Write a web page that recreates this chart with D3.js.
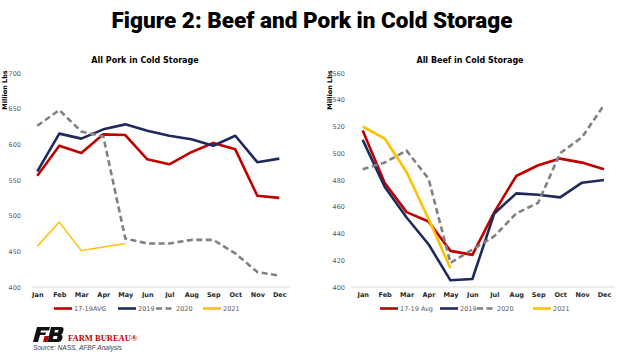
<!DOCTYPE html>
<html>
<head>
<meta charset="utf-8">
<script src="https://cdn.jsdelivr.net/npm/d3@7"></script>
<style>
  body { margin: 0; background: #fff; }
  svg { display: block; }
  text { font-family: "DejaVu Sans", sans-serif; }
</style>
</head>
<body>
<div id="chart"></div>
<script>
// months on the x axis
const months = ['Jan','Feb','Mar','Apr','May','Jun','Jul','Aug','Sep','Oct','Nov','Dec']

// pork in cold storage, million lbs
const porkAvg  = [556, 598, 588, 614, 613, 579, 572, 589, 602, 593, 528, 525]
const pork2019 = [562, 615, 608, 621, 628, 619, 612, 607, 598, 612, 575, 580]
const pork2020 = [626, 648, 618, 611, 468, 461, 461, 466, 466, 447, 421, 416]
const pork2021 = [457, 491, 451, 456, 461]
const porkTicks = [400, 450, 500, 550, 600, 650, 700]

// beef in cold storage, million lbs
const beefAvg  = [517, 478, 456, 449, 427, 424, 456, 483, 491, 496, 493, 488]
const beef2019 = [510, 475, 452, 432, 405, 406, 455, 470, 469, 467, 478, 480]
const beef2020 = [488, 493, 502, 481, 418, 428, 438, 455, 463, 500, 512, 536]
const beef2021 = [520, 511, 486, 451, 414]
const beefTicks = [400, 420, 440, 460, 480, 500, 520, 540, 560]

const W = 624, H = 354

const svg = d3.select('#chart').append('svg')
  .attr('width', W)
  .attr('height', H)

svg.append('text')
  .attr('x', 312)
  .attr('y', 28)
  .attr('text-anchor', 'middle')
  .style('font-family', 'Roboto, sans-serif')
  .style('font-weight', 900)
  .style('font-size', '22.5px')
  .attr('fill', '#000')
  .text('Figure 2: Beef and Pork in Cold Storage')

function drawPanel(opt) {
  let g = svg.append('g')

  let x = d3.scalePoint().domain(months).range(opt.xRange)
  let y = d3.scaleLinear().domain(opt.yDomain).range([287, 73])

  g.append('text')
    .attr('x', opt.titleX)
    .attr('y', 63)
    .attr('text-anchor', 'middle')
    .style('font-weight', 'bold')
    .style('font-size', '8px')
    .attr('fill', '#000')
    .text(opt.title)

  g.append('text')
    .attr('transform', `translate(${opt.labelX},90) rotate(-90)`)
    .attr('text-anchor', 'middle')
    .style('font-weight', 'bold')
    .style('font-size', '6.5px')
    .attr('fill', '#000')
    .text('Million Lbs')

  // y tick labels, no axis line
  let yAxis = d3.axisLeft(y).tickValues(opt.ticks).tickSize(0).tickPadding(0)
  let ya = g.append('g').attr('transform', `translate(${opt.tickX},0)`).call(yAxis)
  ya.select('.domain').remove()
  ya.selectAll('text')
    .style('font-size', '6.5px')
    .style('font-family', '"DejaVu Sans", sans-serif')
    .attr('fill', '#595959')

  g.append('line')
    .attr('x1', opt.axisX[0]).attr('x2', opt.axisX[1])
    .attr('y1', 287).attr('y2', 287)
    .attr('stroke', '#d9d9d9').attr('stroke-width', 1)

  let xAxis = d3.axisBottom(x).tickSize(0).tickPadding(0)
  let xa = g.append('g').attr('transform', 'translate(0,292.5)').call(xAxis)
  xa.select('.domain').remove()
  xa.selectAll('text')
    .style('font-size', '6.5px')
    .style('font-weight', 'bold')
    .style('font-family', '"DejaVu Sans", sans-serif')
    .attr('fill', '#262626')

  let line = d3.line()
    .x((d, i) => x(months[i]))
    .y(d => y(d))

  opt.series.forEach(s => {
    g.append('path')
      .datum(s.values)
      .attr('d', line)
      .attr('fill', 'none')
      .attr('stroke', s.color)
      .attr('stroke-width', s.width)
      .attr('stroke-dasharray', s.dash || null)
      .attr('stroke-linejoin', 'round')
  })

  // legend
  opt.series.forEach((s, i) => {
    let lx = opt.legendX[i]
    g.append('line')
      .attr('x1', lx).attr('x2', lx + 18)
      .attr('y1', 308.5).attr('y2', 308.5)
      .attr('stroke', s.color)
      .attr('stroke-width', 2.6)
      .attr('stroke-dasharray', s.dash || null)
    g.append('text')
      .attr('x', lx + 20)
      .attr('y', 311)
      .style('font-size', '6.5px')
      .attr('fill', '#595959')
      .text(s.name)
  })
}

drawPanel({
  title: 'All Pork in Cold Storage',
  titleX: 145,
  labelX: 7,
  tickX: 21,
  axisX: [32, 290],
  xRange: [37.3, 279.3],
  yDomain: [400, 700],
  ticks: porkTicks,
  legendX: [54, 118, 156, 203],
  series: [
    {name: '17-19AVG', values: porkAvg, color: '#c00000', width: 2.6},
    {name: '2019', values: pork2019, color: '#1f2a5c', width: 2.6},
    {name: '2020', values: pork2020, color: '#808080', width: 2.6, dash: '6,3.5'},
    {name: '2021', values: pork2021, color: '#ffc000', width: 1.5}
  ]
})

drawPanel({
  title: 'All Beef in Cold Storage',
  titleX: 470,
  labelX: 332,
  tickX: 345,
  axisX: [351, 615],
  xRange: [362.7, 604],
  yDomain: [400, 560],
  ticks: beefTicks,
  legendX: [380, 440, 477, 533],
  series: [
    {name: '17-19 Avg', values: beefAvg, color: '#c00000', width: 2.6},
    {name: '2019', values: beef2019, color: '#1f2a5c', width: 2.6},
    {name: '2020', values: beef2020, color: '#808080', width: 2.6, dash: '6,3.5'},
    {name: '2021', values: beef2021, color: '#ffc000', width: 2.6}
  ]
})

// Farm Bureau logo
let logo = svg.append('g')
logo.append('path')
  .attr('d', 'M37,327 L50,327 L49,330.5 L41,330.5 L40.5,332.5 L46,332.5 L45.2,335 L40,335 L38,342 L33,342 Z')
  .attr('fill', '#111')
logo.append('path')
  .attr('d', 'M44.5,336 L49,336 L47.5,342 L43,342 Z')
  .attr('fill', '#c00000')
logo.append('path')
  .attr('d', 'M51,327 L61,327 Q64,327 63.5,330 L63,332 Q62.5,334 61,334.5 Q63,335.5 62.5,337.5 L62,339.5 Q61,342 58,342 L47.5,342 Z')
  .attr('fill', '#111')
logo.append('path')
  .attr('d', 'M55,330 L58.5,330 L58,332.5 L54.4,332.5 Z M53.6,336 L57.5,336 L57,339 L52.8,339 Z')
  .attr('fill', '#fff')

svg.append('text')
  .attr('x', 68)
  .attr('y', 341)
  .style('font-family', '"Liberation Serif", serif')
  .style('font-weight', 'bold')
  .style('font-size', '8.5px')
  .attr('fill', '#c00000')
  .text('FARM BUREAU®')

svg.append('text')
  .attr('x', 33)
  .attr('y', 350)
  .style('font-family', '"Liberation Sans", sans-serif')
  .style('font-style', 'italic')
  .style('font-size', '6.6px')
  .attr('fill', '#404040')
  .text('Source: NASS, AFBF Analysis')
</script>
</body>
</html>
